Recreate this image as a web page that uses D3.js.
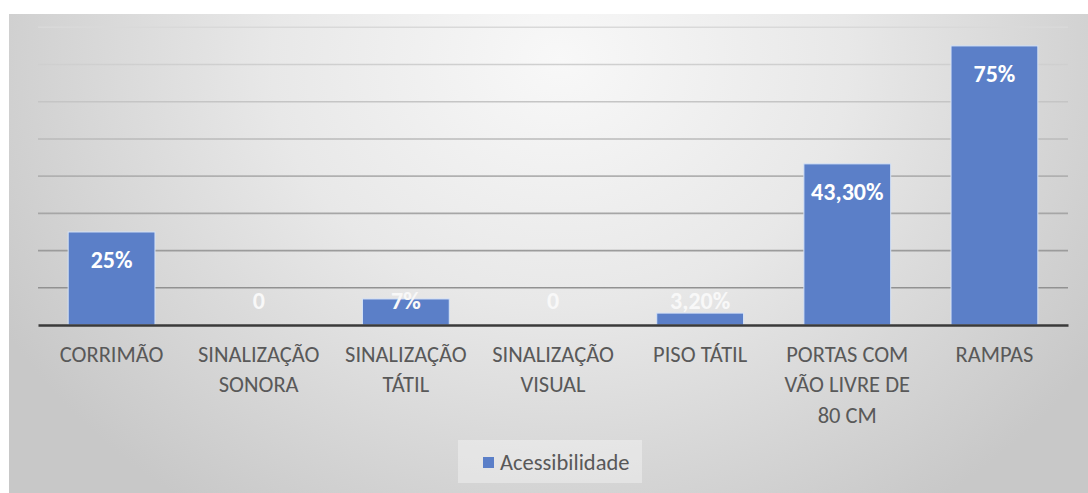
<!DOCTYPE html>
<html>
<head>
<meta charset="utf-8">
<script src="https://cdn.jsdelivr.net/npm/d3@7/dist/d3.min.js"></script>
<style>
  html, body { margin: 0; padding: 0; background: #ffffff; }
  svg { display: block; }
</style>
</head>
<body>
<svg id="chart" width="1088" height="493"></svg>
<script>
const categories = [
  ["CORRIMÃO"],
  ["SINALIZAÇÃO", "SONORA"],
  ["SINALIZAÇÃO", "TÁTIL"],
  ["SINALIZAÇÃO", "VISUAL"],
  ["PISO TÁTIL"],
  ["PORTAS COM", "VÃO LIVRE DE", "80 CM"],
  ["RAMPAS"]
];
const values = [25, 0, 7, 0, 3.2, 43.3, 75];
const valueLabels = ["25%", "0", "7%", "0", "3,20%", "43,30%", "75%"];
const gridTicks = [0, 10, 20, 30, 40, 50, 60, 70, 80];
const seriesName = "Acessibilidade";

const W = 1088, H = 493;
const svg = d3.select("#chart");
const defs = svg.append("defs");

const bg = defs.append("radialGradient").attr("id", "bgGrad")
  .attr("gradientUnits", "userSpaceOnUse")
  .attr("cx", 560).attr("cy", 60).attr("r", 640)
  .attr("gradientTransform", "translate(560,60) scale(1,0.85) translate(-560,-60)");
bg.append("stop").attr("offset", "0%").attr("stop-color", "#f8f8f8");
bg.append("stop").attr("offset", "45%").attr("stop-color", "#e8e8e8");
bg.append("stop").attr("offset", "100%").attr("stop-color", "#c8c8c8");

const gg = defs.append("linearGradient").attr("id", "gridGrad")
  .attr("gradientUnits", "userSpaceOnUse")
  .attr("x1", 0).attr("y1", 25).attr("x2", 0).attr("y2", 300);
gg.append("stop").attr("offset", "0%").attr("stop-color", "#dadada");
gg.append("stop").attr("offset", "100%").attr("stop-color", "#8e8e8e");

svg.append("rect").attr("x", 9).attr("y", 14).attr("width", W - 9).attr("height", H - 14)
  .attr("fill", "url(#bgGrad)");

const plot = { left: 38, right: 1068, top: 27.3, bottom: 325 };

const x = d3.scaleBand().domain(d3.range(categories.length))
  .range([plot.left, plot.right]).paddingInner(0.41).paddingOuter(0.205);
const y = d3.scaleLinear().domain([0, 80]).range([plot.bottom, plot.top]);

// gridlines
svg.append("g").selectAll("line").data(gridTicks.filter(d => d > 0)).join("line")
  .attr("x1", plot.left).attr("x2", plot.right)
  .attr("y1", d => y(d)).attr("y2", d => y(d))
  .attr("stroke", "url(#gridGrad)").attr("stroke-width", 1.6);

// bars
svg.append("g").selectAll("rect").data(values).join("rect")
  .attr("x", (d, i) => x(i)).attr("width", x.bandwidth())
  .attr("y", d => y(d)).attr("height", d => y(0) - y(d))
  .attr("fill", "#5b7fc8")
  .attr("stroke", "#d6e3f7").attr("stroke-width", d => d > 0 ? 1 : 0);

// baseline axis
const xAxis = d3.axisBottom(x).tickSize(0).tickSizeOuter(0).tickFormat("");
const ax = svg.append("g").attr("transform", `translate(0,${plot.bottom})`).call(xAxis);
ax.select(".domain").attr("stroke", "#3a3a3a").attr("stroke-width", 2.6);

// category labels
const labelFont = "Carlito, Lato, 'Open Sans', sans-serif";
const lab = svg.append("g");
categories.forEach((lines, i) => {
  const t = lab.append("text")
    .attr("x", x(i) + x.bandwidth() / 2)
    .attr("text-anchor", "middle")
    .attr("font-family", labelFont)
    .attr("font-size", 22.5)
    .attr("fill", "#595959");
  lines.forEach((ln, j) => {
    t.append("tspan").attr("x", x(i) + x.bandwidth() / 2)
      .attr("y", 354 + j * 30.5).attr("dy", "0.35em").text(ln);
  });
});

// value labels
svg.append("g").selectAll("text").data(values).join("text")
  .attr("x", (d, i) => x(i) + x.bandwidth() / 2)
  .attr("y", d => Math.min(y(d) + 28, y(0) - 24))
  .attr("dy", "0.35em")
  .attr("text-anchor", "middle")
  .attr("font-family", labelFont)
  .attr("font-weight", "bold")
  .attr("font-size", 24)
  .attr("fill", (d) => d >= 20 ? "#ffffff" : "#f8f8f8")
  .text((d, i) => valueLabels[i]);

// legend
const lg = svg.append("g");
lg.append("rect").attr("x", 458).attr("y", 440).attr("width", 184).attr("height", 43)
  .attr("fill", "#ffffff").attr("fill-opacity", 0.35);
lg.append("rect").attr("x", 483).attr("y", 457).attr("width", 11).attr("height", 11)
  .attr("fill", "#5b7fc8");
lg.append("text").attr("x", 500).attr("y", 462).attr("dy", "0.35em")
  .attr("font-family", labelFont).attr("font-size", 22.5).attr("fill", "#595959")
  .text(seriesName);
</script>
</body>
</html>
